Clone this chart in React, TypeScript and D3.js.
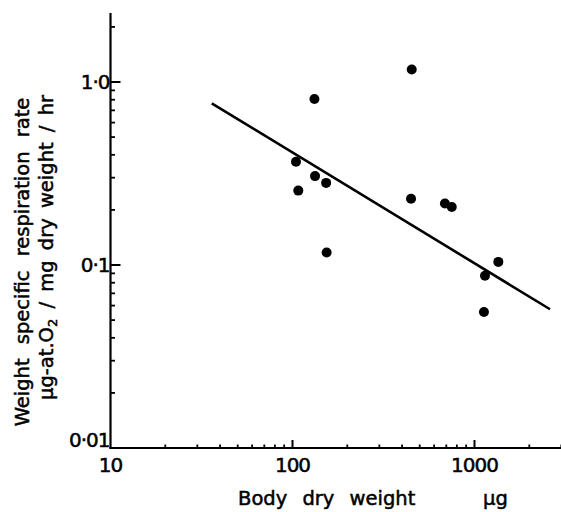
import React from "react";
import * as d3 from "d3";

// Body dry weight (µg) and weight-specific respiration rate (µg-at.O2 / mg dry weight / hr)
const bodyWeight = [452, 132, 104.5, 133, 153, 107.6, 154, 448, 688, 750, 1352, 1142, 1127];
const respiration = [1.17, 0.807, 0.367, 0.306, 0.281, 0.255, 0.117, 0.23, 0.217, 0.2075, 0.104, 0.0874, 0.0554];

// Fitted regression line end points
const fitWeight = [36, 2600];
const fitRate = [0.765, 0.0573];

const xMajorTicks = [10, 100, 1000];
const xMajorLabels = ["10", "100", "1000"];
const xMinorTicks = [20, 30, 40, 50, 60, 70, 80, 90, 200, 300, 400, 500, 600, 700, 800, 900, 2000, 3000];
const yMajorTicks = [0.01, 0.1, 1];
const yMajorLabels = ["0·01", "0·1", "1·0"];
const yMinorTicks = [0.02, 0.03, 0.04, 0.05, 0.06, 0.07, 0.08, 0.09, 0.2, 0.3, 0.4, 0.5, 0.6, 0.7, 0.8, 0.9, 2];

const W = 561;
const H = 512;
const FONT = "'DejaVu Sans', Verdana, sans-serif";
const textInk = { fill: "#000", stroke: "#000", strokeWidth: 0.5 };

export default function App() {
  const x = d3.scaleLog().domain([10, 1000]).range([110.5, 474.5]);
  const y = d3.scaleLog().domain([0.01, 1]).range([448, 82]);
  const xMax = 3000;
  const yMax = 2.38;

  const line = d3
    .line<number>()
    .x((_, i) => x(fitWeight[i]))
    .y((_, i) => y(fitRate[i]));

  const x0 = x(10);
  const y0 = y(0.01);

  return (
    <svg
      width={W}
      height={H}
      style={{ position: "absolute", left: 0, top: 0, background: "#fff" }}
      fontFamily={FONT}
    >
      <rect width={W} height={H} fill="#fff" />
      {/* axes */}
      <line x1={x0} y1={y(yMax)} x2={x0} y2={y0 + 1} stroke="#000" strokeWidth={2.2} />
      <line x1={x0 - 1} y1={y0} x2={x(xMax) + 2} y2={y0} stroke="#000" strokeWidth={2.2} />

      {/* y ticks */}
      {yMajorTicks.map((t, i) => (
        <g key={"ym" + t}>
          {t !== 0.01 && <line x1={x0} x2={x0 + 10} y1={y(t)} y2={y(t)} stroke="#000" strokeWidth={2} />}
          <text
            x={x0 - 1}
            y={y(t) + (t === 0.01 ? -7 : 1)}
            textAnchor="end"
            dominantBaseline="middle"
            fontSize={20}
            letterSpacing={-1}
            {...textInk}
          >
            {yMajorLabels[i]}
          </text>
        </g>
      ))}
      {yMinorTicks.map((t) => (
        <line key={"yn" + t} x1={x0} x2={x0 + 4.5} y1={y(t)} y2={y(t)} stroke="#000" strokeWidth={1.8} />
      ))}

      {/* x ticks */}
      {xMajorTicks.map((t, i) => (
        <g key={"xm" + t}>
          {t !== 10 && <line x1={x(t)} x2={x(t)} y1={y0} y2={y0 - 8} stroke="#000" strokeWidth={2} />}
          <text x={x(t)} y={y0 + 24} textAnchor="middle" fontSize={20} letterSpacing={-1} {...textInk}>
            {xMajorLabels[i]}
          </text>
        </g>
      ))}
      {xMinorTicks.map((t) => (
        <line key={"xn" + t} x1={x(t)} x2={x(t)} y1={y0} y2={y0 - 3.5} stroke="#000" strokeWidth={1.8} />
      ))}

      {/* regression line */}
      <path d={line(fitWeight) ?? ""} fill="none" stroke="#000" strokeWidth={2.6} />

      {/* observations */}
      {bodyWeight.map((w, i) => (
        <circle key={i} cx={x(w)} cy={y(respiration[i])} r={5} fill="#000" />
      ))}

      {/* axis titles */}
      <text x={238} y={505} fontSize={19.5} wordSpacing={9} {...textInk}>
        Body dry weight
      </text>
      <text x={483} y={505} fontSize={19.5} {...textInk}>
        µg
      </text>

      <g transform="translate(29,262) rotate(-90)">
        <text x={0} y={0} textAnchor="middle" fontSize={19.5} wordSpacing={8} {...textInk}>
          Weight specific respiration rate
        </text>
      </g>
      <g transform="translate(53,400) rotate(-90)">
        <text x={0} y={0} fontSize={19.5} wordSpacing={4} {...textInk}>
          µg-at.O
          <tspan fontSize={13} dy={4}>2</tspan>
          <tspan dy={-4}>{" / mg dry weight / hr"}</tspan>
        </text>
      </g>
    </svg>
  );
}
